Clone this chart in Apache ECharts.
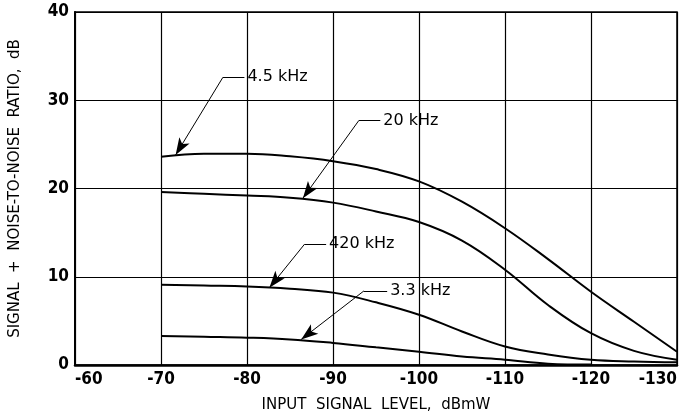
<!DOCTYPE html>
<html>
<head>
<meta charset="utf-8">
<script src="https://cdn.jsdelivr.net/npm/echarts@6/dist/echarts.min.js"></script>
<style>
  html, body { margin: 0; padding: 0; background: #fff; }
  #chart { width: 680px; height: 418px; }
</style>
</head>
<body>
<div id="chart"></div>
<script>
// Input signal level, dBmW
const inputLevel = [-70, -75, -80, -85, -90, -95, -100, -105, -110, -115, -120, -125, -130];

// Signal + noise-to-noise ratio, dB, one list per tone frequency
const snr4500Hz  = [23.6, 23.95, 23.95, 23.65, 23.1, 22.2, 20.8, 18.5, 15.5, 12.0, 8.3, 4.9, 1.5];
const snr20kHz   = [19.6, 19.4, 19.2, 18.95, 18.4, 17.4, 16.2, 14.1, 10.8, 6.8, 3.6, 1.6, 0.6];
const snr420kHz  = [9.1, 9.0, 8.9, 8.65, 8.2, 7.1, 5.7, 3.8, 2.1, 1.2, 0.6, 0.4, 0.3];
const snr3300Hz  = [3.3, 3.2, 3.1, 2.9, 2.5, 2.0, 1.5, 0.95, 0.6, 0.15, 0.05, null, null];

const curveNames = ['4.5 kHz', '20 kHz', '420 kHz', '3.3 kHz'];
const curveValues = [snr4500Hz, snr20kHz, snr420kHz, snr3300Hz];

// Callout leaders in data units: corner of the leader, end of its horizontal run, arrow tip on the curve
const calloutCorner = [[-77.2, 32.6], [-93.0, 27.7], [-86.7, 13.7], [-93.6, 8.4]];
const calloutTextAt = [[-79.7, 32.6], [-95.5, 27.7], [-89.2, 13.7], [-96.3, 8.4]];
const calloutTip    = [[-71.7, 23.8], [-86.5, 18.9], [-82.6, 8.75], [-86.3, 2.9]];

const xTicks = [-130, -120, -110, -100, -90, -80, -70, -60];
const yTicks = [0, 10, 20, 30, 40];

const FONT = "'Liberation Sans Narrow', 'DejaVu Sans Condensed', 'Liberation Sans', sans-serif";
const TEXTFONT = "'DejaVu Sans', 'Liberation Sans', sans-serif";

const chart = echarts.init(document.getElementById('chart'), null, { renderer: 'canvas' });

const series = curveValues.map((vals, i) => ({
  name: curveNames[i],
  type: 'line',
  data: inputLevel.map((x, k) => [x, vals[k]]),
  smooth: 0.4,
  symbol: 'none',
  connectNulls: false,
  lineStyle: { color: '#000', width: 2 },
  animation: false,
  z: 3,
  markLine: {
    silent: true,
    animation: false,
    symbol: ['none', 'none'],
    lineStyle: { color: '#000', width: 1, type: 'solid' },
    data: [
      [
        { coord: calloutCorner[i], symbol: 'none' },
        {
          coord: calloutTextAt[i], symbol: 'none',
          label: {
            show: true, position: 'end', distance: 3,
            formatter: curveNames[i],
            color: '#000', fontFamily: TEXTFONT, fontSize: 16
          }
        }
      ],
      [
        { coord: calloutCorner[i], symbol: 'none' },
        { coord: calloutTip[i], symbol: 'arrow', symbolSize: [9, 17], label: { show: false } }
      ]
    ]
  }
}));

chart.setOption({
  backgroundColor: '#fff',
  animation: false,
  grid: {
    left: 73, right: 2, top: 12, bottom: 53,
    show: true, borderColor: '#000', borderWidth: 1.5, backgroundColor: '#fff'
  },
  xAxis: {
    type: 'value',
    min: xTicks[0], max: xTicks[xTicks.length - 1], interval: 10,
    inverse: true,
    name: 'INPUT  SIGNAL  LEVEL,  dBmW',
    nameLocation: 'middle', nameGap: 33,
    nameTextStyle: { color: '#000', fontFamily: TEXTFONT, fontSize: 15 },
    axisLine: { show: true, onZero: false, lineStyle: { color: '#000', width: 2.5 } },
    axisTick: { show: false },
    axisLabel: {
      color: '#000', fontFamily: FONT, fontSize: 17, fontWeight: 'bold', margin: 6,
      alignMinLabel: 'right', alignMaxLabel: 'left'
    },
    splitLine: { show: true, lineStyle: { color: '#000', width: 1.2 } }
  },
  yAxis: {
    type: 'value',
    min: yTicks[0], max: yTicks[yTicks.length - 1], interval: 10,
    name: 'SIGNAL  +  NOISE-TO-NOISE  RATIO,  dB',
    nameLocation: 'middle', nameGap: 52, nameRotate: 90,
    nameTextStyle: { color: '#000', fontFamily: TEXTFONT, fontSize: 15 },
    axisLine: { show: true, lineStyle: { color: '#000', width: 2 } },
    axisTick: { show: false },
    axisLabel: { color: '#000', fontFamily: FONT, fontSize: 17, fontWeight: 'bold', margin: 6 },
    splitLine: { show: true, lineStyle: { color: '#000', width: 1.2 } }
  },
  series: series
});
</script>
</body>
</html>
